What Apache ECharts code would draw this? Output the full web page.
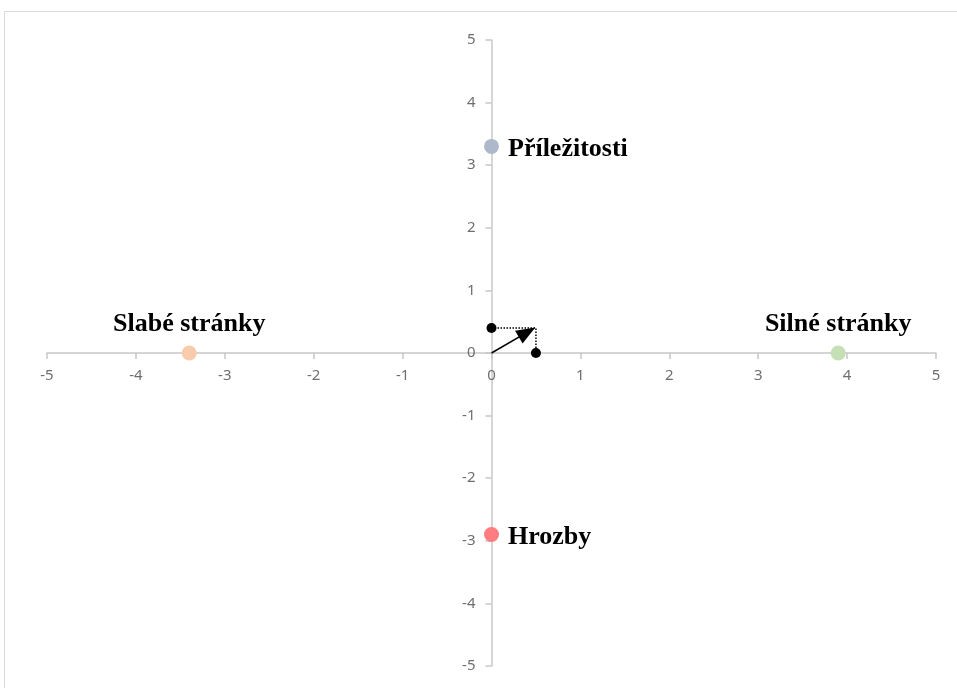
<!DOCTYPE html>
<html>
<head>
<meta charset="utf-8">
<script src="https://cdn.jsdelivr.net/npm/echarts@6/dist/echarts.min.js"></script>
<style>html,body{margin:0;padding:0;background:#fff}#chart{width:957px;height:688px}</style>
</head>
<body>
<div id="chart"></div>
<script>
// body SWOT bodu
const names = ['Silné stránky', 'Slabé stránky', 'Příležitosti', 'Hrozby']
const xs = [3.9, -3.4, 0, 0]
const ys = [0, 0, 3.3, -2.9]
const colors = ['#c5e0b4', '#f8cbad', '#adb9ca', '#ff7c80']
const labelPos = ['top', 'top', 'right', 'right']
// vysledny vektor
const vecX = 0.5
const vecY = 0.4
// konec sipky (hrot lezi v rohu obdelniku)
const arrowEnd = [0.4, 0.33]
// popisky os
const tickValues = [-5, -4, -3, -2, -1, 0, 1, 2, 3, 4, 5]

const chart = echarts.init(document.getElementById('chart'))
const axisCommon = {
  type: 'value', min: -5, max: 5, interval: 1,
  axisLine: { onZero: true, lineStyle: { color: '#c8c8c8', width: 1.5 } },
  axisTick: { show: true, length: 6, lineStyle: { color: '#c8c8c8', width: 1.5 } },
  axisLabel: { show: false },
  splitLine: { show: false }
}
const tickFont = { color: '#4a4a4a', fontSize: 15, fontFamily: 'Noto Sans' }

const pointSeries = names.map((n, i) => ({
  type: 'scatter', name: n, symbolSize: 15, z: 5,
  itemStyle: { color: colors[i], opacity: 1 },
  data: [[xs[i], ys[i]]],
  label: {
    show: true, formatter: n, position: labelPos[i],
    distance: labelPos[i] === 'top' ? 8 : 9,
    offset: labelPos[i] === 'right' ? [0, 3] : [0, 0],
    fontFamily: 'Liberation Serif', fontWeight: 'bold', fontSize: 26, color: '#000'
  }
}))

chart.setOption({
  animation: false,
  grid: { left: 47, right: 21, top: 40, bottom: 22 },
  graphic: [{
    type: 'rect', shape: { x: 4.5, y: 11.5, width: 960, height: 700 },
    style: { fill: 'none', stroke: '#d9d9d9', lineWidth: 1 }, silent: true
  }],
  xAxis: axisCommon,
  yAxis: axisCommon,
  series: pointSeries.concat([
    {
      type: 'scatter', symbolSize: 0, silent: true,
      data: tickValues.map(v => [v, 0]),
      label: Object.assign({ show: true, position: 'bottom', distance: 15, formatter: p => String(p.value[0]) }, tickFont)
    },
    {
      type: 'scatter', symbolSize: 0, silent: true,
      data: tickValues.map(v => [0, v]),
      label: Object.assign({ show: true, position: 'left', distance: 16, formatter: p => String(p.value[1]) }, tickFont)
    },
    {
      type: 'line', symbol: 'none', z: 3,
      lineStyle: { color: '#000', width: 1.5, type: 'dotted' },
      data: [[0, vecY], [vecX, vecY], [vecX, 0]]
    },
    {
      type: 'scatter', symbolSize: 10, z: 6,
      itemStyle: { color: '#000', opacity: 1 },
      data: [[0, vecY], [vecX, 0]],
      markLine: {
        silent: true, symbolSize: [15, 19],
        lineStyle: { color: '#000', width: 1.5, type: 'solid' },
        label: { show: false },
        data: [[{ coord: [0, 0], symbol: 'none' }, { coord: arrowEnd, symbol: 'triangle' }]]
      }
    }
  ])
})
</script>
</body>
</html>
